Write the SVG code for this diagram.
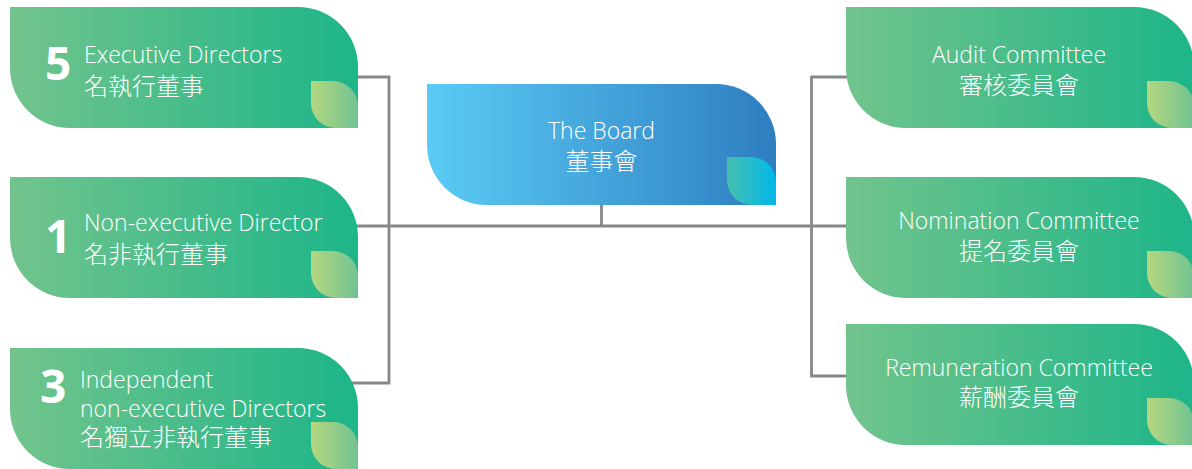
<svg xmlns="http://www.w3.org/2000/svg" width="1192" height="469" viewBox="0 0 1192 469">
<defs>
<linearGradient id="gGreen" x1="0" y1="0" x2="1" y2="0">
<stop offset="0" stop-color="#72c48c"/>
<stop offset="1" stop-color="#1db589"/>
</linearGradient>
<linearGradient id="gBlue" x1="0" y1="0" x2="1" y2="0">
<stop offset="0" stop-color="#5bcbf5"/>
<stop offset="1" stop-color="#2e7ec1"/>
</linearGradient>
<linearGradient id="gLeafG" x1="0" y1="0" x2="1" y2="0">
<stop offset="0" stop-color="#b5d77f"/>
<stop offset="1" stop-color="#70c394"/>
</linearGradient>
<linearGradient id="gLeafB" x1="0" y1="0" x2="1" y2="0">
<stop offset="0" stop-color="#47bfae"/>
<stop offset="1" stop-color="#00b8ea"/>
</linearGradient>
</defs>
<style>
.lat{font-family:"Open Sans","Noto Sans","DejaVu Sans",sans-serif;font-weight:300;fill:#ffffff;font-size:23px}
.cjk{font-family:"Noto Sans CJK TC","Noto Sans CJK SC",sans-serif;font-weight:300;fill:#ffffff;font-size:24px}
.num{font-family:"Open Sans","Noto Sans",sans-serif;font-weight:700;fill:#ffffff;font-size:46px}
.mid{text-anchor:middle}
.line{stroke:#878787;stroke-width:2.8;fill:none}
</style>
<g id="connectors">
<polyline class="line" points="350,77 389,77 389,383 350,383"/>
<line class="line" x1="350" y1="226" x2="852" y2="226"/>
<line class="line" x1="601.5" y1="200" x2="601.5" y2="226"/>
<polyline class="line" points="852,77 811.5,77 811.5,376 852,376"/>
</g>
<g id="board">
<path d="M427 84 H716 A60 60 0 0 1 776 144 V205 H487 A60 60 0 0 1 427 145 Z" fill="url(#gBlue)"/>
<path d="M727 157 H751 A25 25 0 0 1 776 182 V205 H752 A25 25 0 0 1 727 180 Z" fill="url(#gLeafB)"/>
<text class="lat mid" x="601.5" y="139">The Board</text>
<text class="cjk mid" x="601.5" y="170">董事會</text>
</g>
<g id="exec">
<path d="M10 7 H298 A60 60 0 0 1 358 67 V128 H70 A60 60 0 0 1 10 68 Z" fill="url(#gGreen)"/>
<path d="M311 81 H333 A25 25 0 0 1 358 106 V128 H336 A25 25 0 0 1 311 103 Z" fill="url(#gLeafG)"/>
<text class="num" x="45" y="80">5</text>
<text class="lat" x="84" y="63">Executive Directors</text>
<text class="cjk" x="84" y="95">名執行董事</text>
</g>
<g id="nonexec">
<path d="M10 177 H298 A60 60 0 0 1 358 237 V298 H70 A60 60 0 0 1 10 238 Z" fill="url(#gGreen)"/>
<path d="M311 251 H333 A25 25 0 0 1 358 276 V298 H336 A25 25 0 0 1 311 273 Z" fill="url(#gLeafG)"/>
<text class="num" x="45" y="253">1</text>
<text class="lat" x="84" y="231">Non-executive Director</text>
<text class="cjk" x="84" y="263">名非執行董事</text>
</g>
<g id="indep">
<path d="M10 348 H298 A60 60 0 0 1 358 408 V469 H70 A60 60 0 0 1 10 409 Z" fill="url(#gGreen)"/>
<path d="M311 422 H333 A25 25 0 0 1 358 447 V469 H336 A25 25 0 0 1 311 444 Z" fill="url(#gLeafG)"/>
<text class="num" x="40" y="403">3</text>
<text class="lat" x="80" y="388">Independent</text>
<text class="lat" x="80" y="417">non-executive Directors</text>
<text class="cjk" x="80" y="446">名獨立非執行董事</text>
</g>
<g id="audit">
<path d="M846 7 H1134 A60 60 0 0 1 1194 67 V128 H906 A60 60 0 0 1 846 68 Z" fill="url(#gGreen)"/>
<path d="M1147 81 H1169 A25 25 0 0 1 1194 106 V128 H1172 A25 25 0 0 1 1147 103 Z" fill="url(#gLeafG)"/>
<text class="lat mid" x="1019" y="63">Audit Committee</text>
<text class="cjk mid" x="1019" y="94">審核委員會</text>
</g>
<g id="nomination">
<path d="M846 177 H1134 A60 60 0 0 1 1194 237 V298 H906 A60 60 0 0 1 846 238 Z" fill="url(#gGreen)"/>
<path d="M1147 251 H1169 A25 25 0 0 1 1194 276 V298 H1172 A25 25 0 0 1 1147 273 Z" fill="url(#gLeafG)"/>
<text class="lat mid" x="1019" y="229">Nomination Committee</text>
<text class="cjk mid" x="1019" y="260">提名委員會</text>
</g>
<g id="remuneration">
<path d="M846 324 H1134 A60 60 0 0 1 1194 384 V445 H906 A60 60 0 0 1 846 385 Z" fill="url(#gGreen)"/>
<path d="M1147 398 H1169 A25 25 0 0 1 1194 423 V445 H1172 A25 25 0 0 1 1147 420 Z" fill="url(#gLeafG)"/>
<text class="lat mid" x="1019" y="376">Remuneration Committee</text>
<text class="cjk mid" x="1019" y="406">薪酬委員會</text>
</g>
</svg>
